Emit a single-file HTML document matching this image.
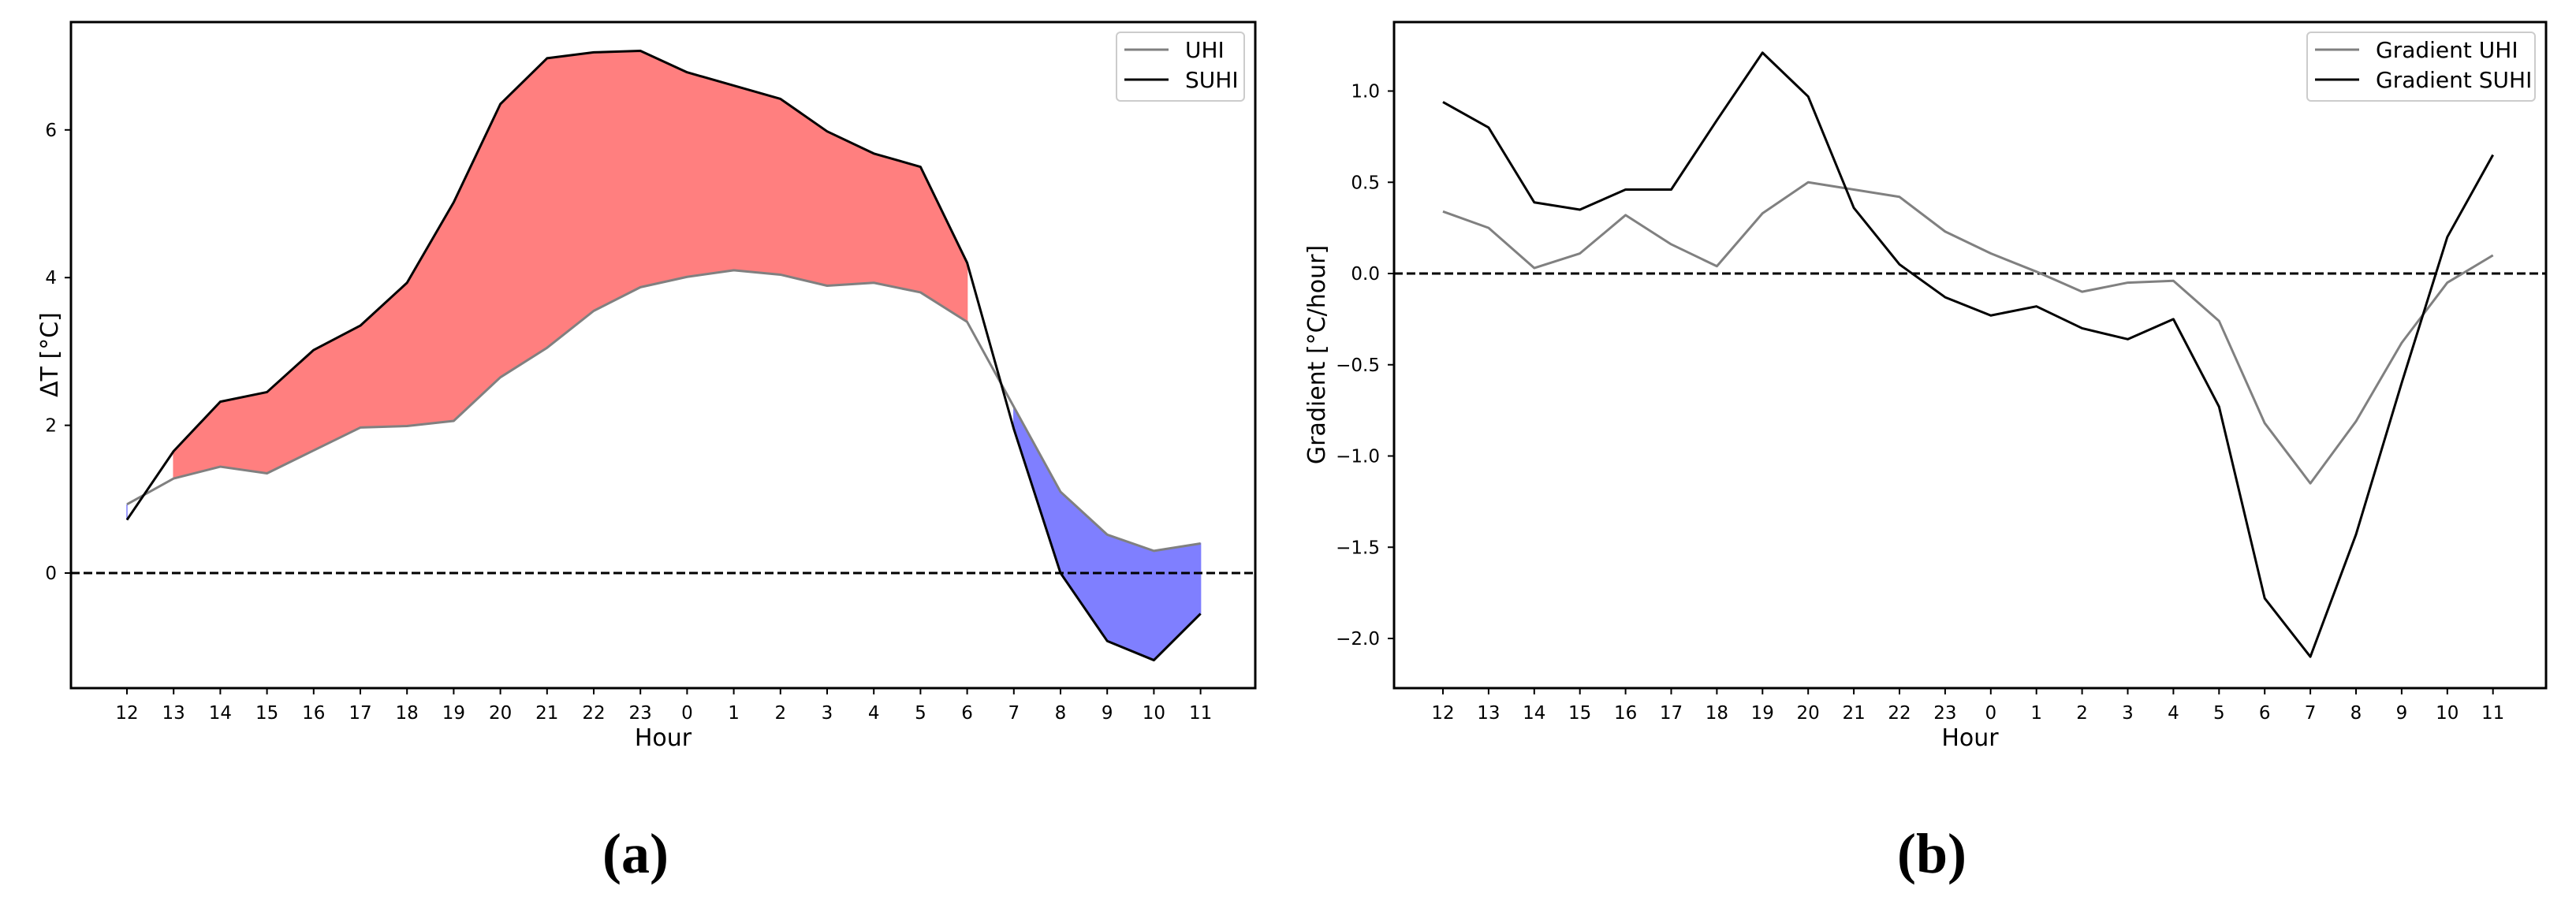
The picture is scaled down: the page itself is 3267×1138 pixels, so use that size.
<!DOCTYPE html>
<html><head><meta charset="utf-8"><style>
body{margin:0;background:#fff}
svg{display:block}
text{font-family:"DejaVu Sans","Liberation Sans",sans-serif;fill:#000}
</style></head><body>
<svg id="fig" width="3267" height="1138" viewBox="0 0 3267 1138" xmlns="http://www.w3.org/2000/svg"></svg>
<script>
const hours=["12","13","14","15","16","17","18","19","20","21","22","23","0","1","2","3","4","5","6","7","8","9","10","11"];
const uhi=[0.93,1.28,1.44,1.35,1.66,1.97,1.99,2.06,2.65,3.05,3.55,3.87,4.01,4.10,4.04,3.89,3.93,3.80,3.40,2.25,1.10,0.52,0.30,0.40];
const suhi=[0.72,1.65,2.32,2.45,3.02,3.35,3.93,5.02,6.35,6.97,7.05,7.07,6.78,6.60,6.42,5.98,5.68,5.50,4.20,1.95,0.0,-0.92,-1.18,-0.55];
const gradUhi=[0.34,0.25,0.03,0.11,0.32,0.16,0.04,0.33,0.50,0.46,0.42,0.23,0.11,0.01,-0.10,-0.05,-0.04,-0.26,-0.82,-1.15,-0.81,-0.38,-0.05,0.10];
const gradSuhi=[0.94,0.80,0.39,0.35,0.46,0.46,0.84,1.21,0.97,0.36,0.05,-0.13,-0.23,-0.18,-0.30,-0.36,-0.25,-0.73,-1.78,-2.10,-1.43,-0.60,0.20,0.65];
const ticksA=[0,2,4,6];
const tickLabelsA=["0","2","4","6"];
const ticksB=[-2.0,-1.5,-1.0,-0.5,0.0,0.5,1.0];
const tickLabelsB=["\u22122.0","\u22121.5","\u22121.0","\u22120.5","0.0","0.5","1.0"];

const NS="http://www.w3.org/2000/svg";
const svg=document.getElementById('fig');
function mk(tag,attrs,parent,txt){const e=document.createElementNS(NS,tag);for(const k in attrs)e.setAttribute(k,attrs[k]);if(txt!==undefined)e.textContent=txt;(parent||svg).appendChild(e);return e;}

function panel(cfg){
  const g=mk('g',{});
  
  
  const xs=i=>cfg.x0+i*cfg.dx;
  const ys=v=>cfg.y0-v*cfg.ky;
  const pts=a=>a.map((v,i)=>xs(i)+','+ys(v)).join(' ');
  if(cfg.fill){
    const a=cfg.s2,b=cfg.s1;
    let segs=[];let cur=null;
    for(let i=0;i<a.length;i++){const up=a[i]>=b[i];
      if(!cur||cur.up!==up){cur={up,idx:[]};segs.push(cur);}cur.idx.push(i);}
    segs.forEach(s=>{
      const top=s.idx.map(i=>xs(i)+','+ys(a[i]));
      const bot=s.idx.slice().reverse().map(i=>xs(i)+','+ys(b[i]));
      const p=mk('polygon',{points:top.concat(bot).join(' '),fill:s.up?'#ff7f7f':'#7f7fff',stroke:s.up?'#ff7f7f':'#7f7fff','stroke-width':1.5},g);
      
      
    });
  }
  const z=mk('line',{x1:cfg.L,x2:cfg.R,y1:ys(0),y2:ys(0),stroke:'#000','stroke-width':3,'stroke-dasharray':'11,5'},g);
  
  
  const l1=mk('polyline',{points:pts(cfg.s1),fill:'none',stroke:'#808080','stroke-width':3,'stroke-linejoin':'round'},g);
  
  
  const l2=mk('polyline',{points:pts(cfg.s2),fill:'none',stroke:'#000','stroke-width':3,'stroke-linejoin':'round'},g);
  
  
  const f=mk('rect',{x:cfg.L,y:28,width:cfg.R-cfg.L,height:873-28,fill:'none',stroke:'#000','stroke-width':3},g);
  
  
  hours.forEach((h,i)=>{
    mk('line',{x1:xs(i),x2:xs(i),y1:873,y2:881,stroke:'#000','stroke-width':2},g);
    const t=mk('text',{x:xs(i),y:912,'font-size':23,'text-anchor':'middle'},g,h);
    
    
  });
  cfg.ticks.forEach((v,i)=>{
    mk('line',{x1:cfg.L-8,x2:cfg.L,y1:ys(v),y2:ys(v),stroke:'#000','stroke-width':2},g);
    const t=mk('text',{x:cfg.L-18,y:ys(v)+8,'font-size':23,'text-anchor':'end'},g,cfg.tickLabels[i]);
    
    
  });
  const xl=mk('text',{x:(cfg.L+cfg.R)/2,y:946,'font-size':30,'text-anchor':'middle'},g,'Hour');
  
  
  const yl=mk('text',{x:0,y:0,'font-size':30,'text-anchor':'middle',transform:`translate(${cfg.ylx},450) rotate(-90)`},g,cfg.ylabel);
  
  
  const lg=mk('g',{},g);
  
  
  mk('rect',{x:cfg.lgx,y:41,width:cfg.lgw,height:87,rx:5,fill:'#fff','fill-opacity':0.8,stroke:'#ccc','stroke-width':2},lg);
  mk('line',{x1:cfg.lgx+10,x2:cfg.lgx+66,y1:63,y2:63,stroke:'#808080','stroke-width':3},lg);
  mk('line',{x1:cfg.lgx+10,x2:cfg.lgx+66,y1:101,y2:101,stroke:'#000','stroke-width':3},lg);
  const e1=mk('text',{x:cfg.lgx+87,y:73,'font-size':28},lg,cfg.leg1);
  
  
  const e2=mk('text',{x:cfg.lgx+87,y:111,'font-size':28},lg,cfg.leg2);
  
  
  const c=mk('text',{x:cfg.capx,y:1107,'font-size':72,'font-weight':'bold','text-anchor':'middle',style:'font-family:"Liberation Serif",serif'},svg,cfg.cap);
  
  
}
panel({name:'panel-a-delta-t',L:90,R:1592,x0:161,dx:59.2,y0:727,ky:93.7,s1:uhi,s2:suhi,fill:true,
  n1:'uhi-line',n2:'suhi-line',ticks:ticksA,tickLabels:tickLabelsA,ylabel:'\u0394T [\u00b0C]',ylx:73,
  lgx:1416,lgw:162,leg1:'UHI',leg2:'SUHI',capx:806,cap:'(a)'});
panel({name:'panel-b-gradient',L:1768,R:3229,x0:1830,dx:57.9,y0:347,ky:231.5,s1:gradUhi,s2:gradSuhi,fill:false,
  n1:'gradient-uhi-line',n2:'gradient-suhi-line',ticks:ticksB,tickLabels:tickLabelsB,ylabel:'Gradient [\u00b0C/hour]',ylx:1680,
  lgx:2926,lgw:289,leg1:'Gradient UHI',leg2:'Gradient SUHI',capx:2450,cap:'(b)'});
</script>
</body></html>
